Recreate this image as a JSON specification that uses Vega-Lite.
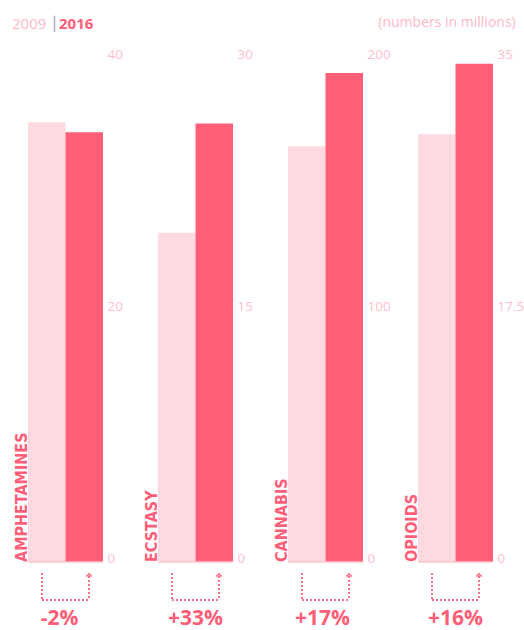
{
  "$schema": "https://vega.github.io/schema/vega-lite/v6.json",
  "padding": {"left": 0, "top": 16, "right": 5, "bottom": 2},
  "background": "white",
  "title": {"text": "(numbers in millions)", "anchor": "end", "frame": "bounds", "color": "#ffb9c5", "font": "Open Sans", "fontSize": 14, "fontWeight": "normal", "offset": -14, "dx": -8},
  "data": {"values": [
    {"drug": "AMPHETAMINES", "year": "2009", "value": 34.9, "change": "-2%"},
    {"drug": "AMPHETAMINES", "year": "2016", "value": 34.1, "change": "-2%"},
    {"drug": "ECSTASY", "year": "2009", "value": 19.6, "change": "+33%"},
    {"drug": "ECSTASY", "year": "2016", "value": 26.1, "change": "+33%"},
    {"drug": "CANNABIS", "year": "2009", "value": 165, "change": "+17%"},
    {"drug": "CANNABIS", "year": "2016", "value": 194, "change": "+17%"},
    {"drug": "OPIOIDS", "year": "2009", "value": 29.7, "change": "+16%"},
    {"drug": "OPIOIDS", "year": "2016", "value": 34.6, "change": "+16%"}
  ]},
  "spacing": 55,
  "bounds": "flush",
  "resolve": {"scale": {"x": "independent", "y": "independent"}},
  "hconcat": [
    {
      "transform": [{"filter": "datum.drug === 'AMPHETAMINES'"}],
      "width": 75, "height": 504,
      "layer": [
        {"mark": {"type": "bar"},
         "encoding": {
           "x": {"field": "year", "type": "nominal", "scale": {"paddingInner": 0, "paddingOuter": 0}, "axis": null},
           "y": {"field": "value", "type": "quantitative", "scale": {"domain": [0, 40], "nice": false}, "axis": {"values": [0, 20, 40]}},
           "color": {"field": "year", "type": "nominal", "scale": {"domain": ["2009", "2016"], "range": ["#ffd9e0", "#ff5e78"]},
             "legend": {"orient": "none", "legendX": -28, "legendY": -42, "direction": "horizontal", "title": null,
               "symbolType": "M0,-4L0,4", "symbolSize": 16, "symbolStrokeWidth": 1.5, "labelFont": "Open Sans", "labelFontSize": 15, "labelOffset": -3, "columnPadding": -10,
               "encode": {
                 "symbols": {"update": {"fill": {"value": "transparent"}, "stroke": {"signal": "datum.value === '2016' ? '#a9adc8' : 'transparent'"}, "strokeWidth": {"value": 1.5}}},
                 "labels": {"update": {"fill": {"signal": "datum.value === '2009' ? '#ffbac6' : '#ff5e78'"}, "fontWeight": {"signal": "datum.value === '2016' ? 'bold' : 'normal'"}}}
               }}}
         }},
        {"transform": [{"filter": "datum.year === '2009'"}], "mark": {"type": "rule", "color": "#ffc4ce", "strokeWidth": 1.5, "x2Offset": 55}, "encoding": {"y": {"datum": 0}}},
        {"transform": [{"filter": "datum.year === '2009'"}], "mark": {"type": "text", "angle": 270, "align": "left", "baseline": "alphabetic", "xOffset": -20, "font": "Liberation Sans Narrow, DejaVu Sans Condensed, sans-serif", "fontSize": 16, "fontWeight": "bold", "color": "#ff5e78"},
         "encoding": {"x": {"field": "year", "type": "nominal"}, "y": {"datum": 0}, "text": {"field": "drug"}}},
        {"transform": [{"filter": "datum.year === '2009'"}], "mark": {"type": "rule", "color": "#ff7089", "strokeWidth": 2, "strokeDash": [2, 2], "xOffset": -4.75, "yOffset": 11, "y2Offset": 38},
         "encoding": {"x": {"field": "year", "type": "nominal"}, "y": {"datum": 0}, "y2": {"datum": 0}}},
        {"transform": [{"filter": "datum.year === '2016'"}], "mark": {"type": "rule", "color": "#ff7089", "strokeWidth": 2, "strokeDash": [2, 2], "xOffset": 4.75, "yOffset": 14, "y2Offset": 38},
         "encoding": {"x": {"field": "year", "type": "nominal"}, "y": {"datum": 0}, "y2": {"datum": 0}}},
        {"transform": [{"filter": "datum.year === '2009'"}], "mark": {"type": "rule", "color": "#ff7089", "strokeWidth": 2, "strokeDash": [2, 2], "xOffset": -4.75, "x2Offset": 4.75, "yOffset": 38},
         "encoding": {"x": {"datum": "2009"}, "x2": {"datum": "2016"}, "y": {"datum": 0}}},
        {"transform": [{"filter": "datum.year === '2016'"}], "mark": {"type": "point", "shape": "M-1,0.6L0,-0.4L1,0.6", "filled": false, "size": 30, "strokeWidth": 1.5, "color": "#ff7089", "opacity": 1, "xOffset": 4.75, "yOffset": 13},
         "encoding": {"x": {"field": "year", "type": "nominal"}, "y": {"datum": 0}}},
        {"transform": [{"filter": "datum.year === '2016'"}], "mark": {"type": "text", "font": "Open Sans", "fontSize": 21, "fontWeight": "bold", "color": "#ff5e78", "baseline": "middle", "align": "center", "yOffset": 57, "xOffset": -6},
         "encoding": {"y": {"datum": 0}, "text": {"field": "change"}}}
      ]
    },
    {
      "transform": [{"filter": "datum.drug === 'ECSTASY'"}],
      "width": 75, "height": 504,
      "layer": [
        {"mark": {"type": "bar"},
         "encoding": {
           "x": {"field": "year", "type": "nominal", "scale": {"paddingInner": 0, "paddingOuter": 0}, "axis": null},
           "y": {"field": "value", "type": "quantitative", "scale": {"domain": [0, 30], "nice": false}, "axis": {"values": [0, 15, 30]}},
           "color": {"field": "year", "type": "nominal"}
         }},
        {"transform": [{"filter": "datum.year === '2009'"}], "mark": {"type": "rule", "color": "#ffc4ce", "strokeWidth": 1.5, "x2Offset": 55}, "encoding": {"y": {"datum": 0}}},
        {"transform": [{"filter": "datum.year === '2009'"}], "mark": {"type": "text", "angle": 270, "align": "left", "baseline": "alphabetic", "xOffset": -20, "font": "Liberation Sans Narrow, DejaVu Sans Condensed, sans-serif", "fontSize": 16, "fontWeight": "bold", "color": "#ff5e78"},
         "encoding": {"x": {"field": "year", "type": "nominal"}, "y": {"datum": 0}, "text": {"field": "drug"}}},
        {"transform": [{"filter": "datum.year === '2009'"}], "mark": {"type": "rule", "color": "#ff7089", "strokeWidth": 2, "strokeDash": [2, 2], "xOffset": -4.75, "yOffset": 11, "y2Offset": 38},
         "encoding": {"x": {"field": "year", "type": "nominal"}, "y": {"datum": 0}, "y2": {"datum": 0}}},
        {"transform": [{"filter": "datum.year === '2016'"}], "mark": {"type": "rule", "color": "#ff7089", "strokeWidth": 2, "strokeDash": [2, 2], "xOffset": 4.75, "yOffset": 14, "y2Offset": 38},
         "encoding": {"x": {"field": "year", "type": "nominal"}, "y": {"datum": 0}, "y2": {"datum": 0}}},
        {"transform": [{"filter": "datum.year === '2009'"}], "mark": {"type": "rule", "color": "#ff7089", "strokeWidth": 2, "strokeDash": [2, 2], "xOffset": -4.75, "x2Offset": 4.75, "yOffset": 38},
         "encoding": {"x": {"datum": "2009"}, "x2": {"datum": "2016"}, "y": {"datum": 0}}},
        {"transform": [{"filter": "datum.year === '2016'"}], "mark": {"type": "point", "shape": "M-1,0.6L0,-0.4L1,0.6", "filled": false, "size": 30, "strokeWidth": 1.5, "color": "#ff7089", "opacity": 1, "xOffset": 4.75, "yOffset": 13},
         "encoding": {"x": {"field": "year", "type": "nominal"}, "y": {"datum": 0}}},
        {"transform": [{"filter": "datum.year === '2016'"}], "mark": {"type": "text", "font": "Open Sans", "fontSize": 21, "fontWeight": "bold", "color": "#ff5e78", "baseline": "middle", "align": "center", "yOffset": 57},
         "encoding": {"y": {"datum": 0}, "text": {"field": "change"}}}
      ]
    },
    {
      "transform": [{"filter": "datum.drug === 'CANNABIS'"}],
      "width": 75, "height": 504,
      "layer": [
        {"mark": {"type": "bar"},
         "encoding": {
           "x": {"field": "year", "type": "nominal", "scale": {"paddingInner": 0, "paddingOuter": 0}, "axis": null},
           "y": {"field": "value", "type": "quantitative", "scale": {"domain": [0, 200], "nice": false}, "axis": {"values": [0, 100, 200]}},
           "color": {"field": "year", "type": "nominal"}
         }},
        {"transform": [{"filter": "datum.year === '2009'"}], "mark": {"type": "rule", "color": "#ffc4ce", "strokeWidth": 1.5, "x2Offset": 55}, "encoding": {"y": {"datum": 0}}},
        {"transform": [{"filter": "datum.year === '2009'"}], "mark": {"type": "text", "angle": 270, "align": "left", "baseline": "alphabetic", "xOffset": -20, "font": "Liberation Sans Narrow, DejaVu Sans Condensed, sans-serif", "fontSize": 16, "fontWeight": "bold", "color": "#ff5e78"},
         "encoding": {"x": {"field": "year", "type": "nominal"}, "y": {"datum": 0}, "text": {"field": "drug"}}},
        {"transform": [{"filter": "datum.year === '2009'"}], "mark": {"type": "rule", "color": "#ff7089", "strokeWidth": 2, "strokeDash": [2, 2], "xOffset": -4.75, "yOffset": 11, "y2Offset": 38},
         "encoding": {"x": {"field": "year", "type": "nominal"}, "y": {"datum": 0}, "y2": {"datum": 0}}},
        {"transform": [{"filter": "datum.year === '2016'"}], "mark": {"type": "rule", "color": "#ff7089", "strokeWidth": 2, "strokeDash": [2, 2], "xOffset": 4.75, "yOffset": 14, "y2Offset": 38},
         "encoding": {"x": {"field": "year", "type": "nominal"}, "y": {"datum": 0}, "y2": {"datum": 0}}},
        {"transform": [{"filter": "datum.year === '2009'"}], "mark": {"type": "rule", "color": "#ff7089", "strokeWidth": 2, "strokeDash": [2, 2], "xOffset": -4.75, "x2Offset": 4.75, "yOffset": 38},
         "encoding": {"x": {"datum": "2009"}, "x2": {"datum": "2016"}, "y": {"datum": 0}}},
        {"transform": [{"filter": "datum.year === '2016'"}], "mark": {"type": "point", "shape": "M-1,0.6L0,-0.4L1,0.6", "filled": false, "size": 30, "strokeWidth": 1.5, "color": "#ff7089", "opacity": 1, "xOffset": 4.75, "yOffset": 13},
         "encoding": {"x": {"field": "year", "type": "nominal"}, "y": {"datum": 0}}},
        {"transform": [{"filter": "datum.year === '2016'"}], "mark": {"type": "text", "font": "Open Sans", "fontSize": 21, "fontWeight": "bold", "color": "#ff5e78", "baseline": "middle", "align": "center", "yOffset": 57, "xOffset": -3},
         "encoding": {"y": {"datum": 0}, "text": {"field": "change"}}}
      ]
    },
    {
      "transform": [{"filter": "datum.drug === 'OPIOIDS'"}],
      "width": 75, "height": 504,
      "layer": [
        {"mark": {"type": "bar"},
         "encoding": {
           "x": {"field": "year", "type": "nominal", "scale": {"paddingInner": 0, "paddingOuter": 0}, "axis": null},
           "y": {"field": "value", "type": "quantitative", "scale": {"domain": [0, 35], "nice": false}, "axis": {"values": [0, 17.5, 35], "format": ".3~g"}},
           "color": {"field": "year", "type": "nominal"}
         }},
        {"transform": [{"filter": "datum.year === '2009'"}], "mark": {"type": "rule", "color": "#ffc4ce", "strokeWidth": 1.5}, "encoding": {"y": {"datum": 0}}},
        {"transform": [{"filter": "datum.year === '2009'"}], "mark": {"type": "text", "angle": 270, "align": "left", "baseline": "alphabetic", "xOffset": -20, "font": "Liberation Sans Narrow, DejaVu Sans Condensed, sans-serif", "fontSize": 16, "fontWeight": "bold", "color": "#ff5e78"},
         "encoding": {"x": {"field": "year", "type": "nominal"}, "y": {"datum": 0}, "text": {"field": "drug"}}},
        {"transform": [{"filter": "datum.year === '2009'"}], "mark": {"type": "rule", "color": "#ff7089", "strokeWidth": 2, "strokeDash": [2, 2], "xOffset": -4.75, "yOffset": 11, "y2Offset": 38},
         "encoding": {"x": {"field": "year", "type": "nominal"}, "y": {"datum": 0}, "y2": {"datum": 0}}},
        {"transform": [{"filter": "datum.year === '2016'"}], "mark": {"type": "rule", "color": "#ff7089", "strokeWidth": 2, "strokeDash": [2, 2], "xOffset": 4.75, "yOffset": 14, "y2Offset": 38},
         "encoding": {"x": {"field": "year", "type": "nominal"}, "y": {"datum": 0}, "y2": {"datum": 0}}},
        {"transform": [{"filter": "datum.year === '2009'"}], "mark": {"type": "rule", "color": "#ff7089", "strokeWidth": 2, "strokeDash": [2, 2], "xOffset": -4.75, "x2Offset": 4.75, "yOffset": 38},
         "encoding": {"x": {"datum": "2009"}, "x2": {"datum": "2016"}, "y": {"datum": 0}}},
        {"transform": [{"filter": "datum.year === '2016'"}], "mark": {"type": "point", "shape": "M-1,0.6L0,-0.4L1,0.6", "filled": false, "size": 30, "strokeWidth": 1.5, "color": "#ff7089", "opacity": 1, "xOffset": 4.75, "yOffset": 13},
         "encoding": {"x": {"field": "year", "type": "nominal"}, "y": {"datum": 0}}},
        {"transform": [{"filter": "datum.year === '2016'"}], "mark": {"type": "text", "font": "Open Sans", "fontSize": 21, "fontWeight": "bold", "color": "#ff5e78", "baseline": "middle", "align": "center", "yOffset": 57},
         "encoding": {"y": {"datum": 0}, "text": {"field": "change"}}}
      ]
    }
  ],
  "config": {
    "view": {"stroke": null},
    "axis": {"orient": "right", "domain": false, "ticks": false, "grid": false, "title": null, "labelColor": "#ffc0cb", "labelFont": "Open Sans", "labelFontSize": 13.5, "labelBaseline": "alphabetic", "labelPadding": 4, "labelFlush": false, "labelOverlap": false},
    "axisY": {"orient": "right"}
  }
}
